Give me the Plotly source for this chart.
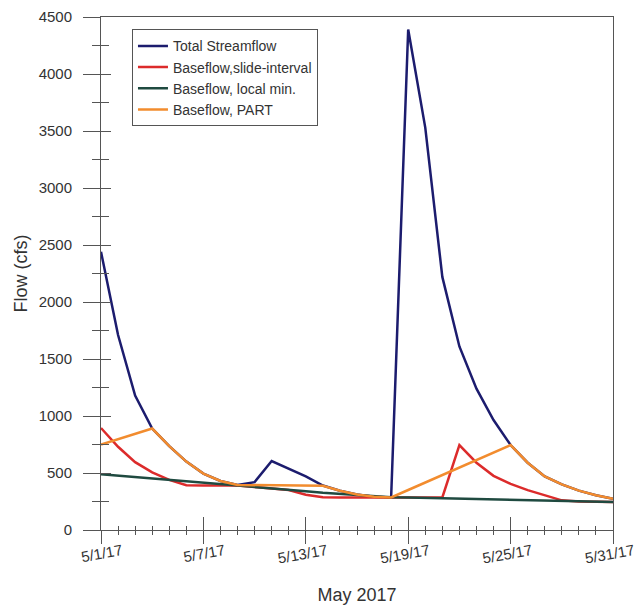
import pandas as pd
import plotly.graph_objects as go

# Daily values for May 2017 (cfs)
dates = pd.date_range("2017-05-01", "2017-05-31", freq="D")

total_streamflow = [2440, 1710, 1180, 890, 735, 600, 495, 430, 395, 420,
                    605, 540, 470, 390, 345, 312, 292, 285, 4390, 3530,
                    2220, 1610, 1240, 965, 745, 590, 470, 400, 345, 305, 275]

baseflow_slide = [895, 730, 595, 505, 440, 392, 390, 390, 390, 378,
                  365, 350, 310, 287, 286, 285, 285, 285, 285, 285,
                  285, 745, 590, 475, 405, 350, 305, 260, 250, 247, 245]

baseflow_localmin = [490, 478, 466, 454, 442, 430, 418, 406, 392, 380,
                     368, 355, 340, 326, 315, 305, 296, 288, 285, 282,
                     279, 275, 272, 268, 265, 261, 258, 254, 251, 248, 245]

baseflow_part = [750, 797, 843, 890, 735, 600, 495, 430, 395, 393,
                 392, 390, 388, 388, 345, 312, 292, 285, 351, 416,
                 482, 548, 613, 679, 745, 590, 470, 400, 345, 305, 275]

series_names = ["Total Streamflow", "Baseflow,slide-interval",
                "Baseflow, local min.", "Baseflow, PART"]
series_values = [total_streamflow, baseflow_slide, baseflow_localmin, baseflow_part]
series_colors = ["#1c1c6e", "#dc2b2b", "#1f4a40", "#f28c2e"]
# the last series sits on the companion axes (drawn on top, same scales)
series_axes = [("x", "y"), ("x", "y"), ("x", "y"), ("x2", "y2")]

fig = go.Figure()
for name, vals, color, (xa, ya) in zip(series_names, series_values,
                                       series_colors, series_axes):
    fig.add_trace(go.Scatter(x=dates, y=vals, mode="lines", name=name,
                             xaxis=xa, yaxis=ya,
                             line=dict(color=color, width=2.5)))

DAY = 86400000
axis_color = "#555555"
font_family = "Liberation Sans, Arial, sans-serif"

fig.update_layout(
    width=641, height=605,
    margin=dict(l=101, r=28, t=17, b=75, autoexpand=False),
    plot_bgcolor="white", paper_bgcolor="white",
    font=dict(family=font_family, color="#333333"),
    showlegend=True,
    legend=dict(x=0.0605, y=0.976, xanchor="left", yanchor="top",
                bgcolor="white", bordercolor=axis_color, borderwidth=1,
                tracegroupgap=0,
                font=dict(size=14, color="#333333")),
    xaxis=dict(
        type="date", range=["2017-05-01", "2017-05-31"], automargin=False,
        tickmode="linear", tick0="2017-05-01", dtick=6 * DAY,
        tickformat="%-m/%-d/%y", tickangle=-10, ticklabelshift=21,
        ticklabelstandoff=-7,
        ticks="outside", ticklen=13, tickwidth=1, tickcolor=axis_color,
        tickfont=dict(size=15, color="#333333"),
        minor=dict(ticks="outside", ticklen=4, tickwidth=1, tickcolor=axis_color,
                   tick0="2017-05-01", dtick=DAY, showgrid=False),
        showline=True, linecolor=axis_color, linewidth=1, mirror=True,
        showgrid=False, zeroline=False,
        title=dict(text="May 2017", font=dict(size=18, color="#333333"), standoff=32),
    ),
    yaxis=dict(
        range=[0, 4500], tickmode="linear", tick0=0, dtick=500, automargin=False,
        ticks="outside", ticklen=17, tickwidth=1, tickcolor=axis_color,
        tickfont=dict(size=15, color="#333333"), ticklabelstandoff=8,
        minor=dict(ticks="outside", ticklen=8, tickwidth=1, tickcolor=axis_color,
                   dtick=250, showgrid=False),
        showline=True, linecolor=axis_color, linewidth=1, mirror=True,
        showgrid=False, zeroline=False,
        title=dict(text="Flow (cfs)", font=dict(size=18, color="#333333"), standoff=6),
    ),
    # companion axes carrying the inward half of each tick mark
    xaxis2=dict(
        type="date", overlaying="x", anchor="y2", side="bottom", automargin=False,
        range=["2017-05-01", "2017-05-31"],
        tickmode="linear", tick0="2017-05-01", dtick=6 * DAY,
        ticks="inside", ticklen=13, tickwidth=1, tickcolor=axis_color,
        minor=dict(ticks="inside", ticklen=4, tickwidth=1, tickcolor=axis_color,
                   tick0="2017-05-01", dtick=DAY, showgrid=False),
        showticklabels=False, showline=False, showgrid=False, zeroline=False,
    ),
    yaxis2=dict(
        overlaying="y", anchor="x2", side="left", automargin=False,
        range=[0, 4500], tickmode="linear", tick0=0, dtick=500,
        ticks="inside", ticklen=10, tickwidth=1, tickcolor=axis_color,
        minor=dict(ticks="inside", ticklen=8, tickwidth=1, tickcolor=axis_color,
                   dtick=250, showgrid=False),
        showticklabels=False, showline=False, showgrid=False, zeroline=False,
    ),
)

fig.write_html("out.html")
